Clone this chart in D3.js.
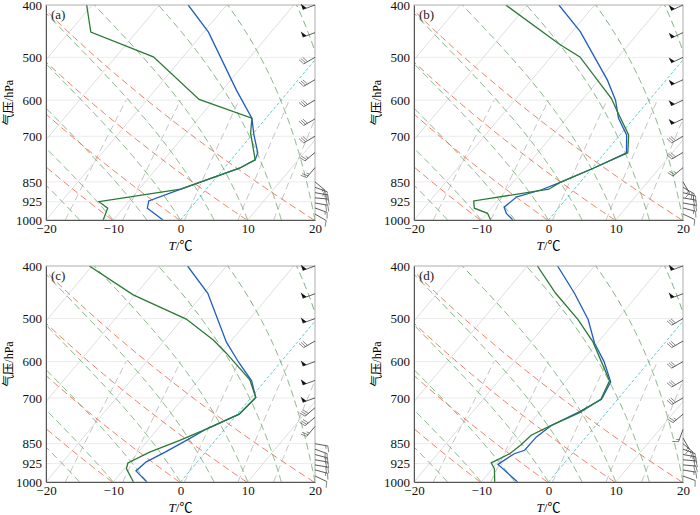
<!DOCTYPE html>
<html><head><meta charset="utf-8">
<script src="https://cdn.jsdelivr.net/npm/d3@7"></script>
<style>body{margin:0;background:#fff}</style>
</head><body>
<svg id="chart" width="700" height="515"></svg>
<script>
// pressure levels (hPa) and temperatures (degC)
const presA_g = [400,449,499,598,648,691,774,802,877,925,951,1000];
const tempA_g = [-40.8,-36.8,-24.4,-12.3,-2.1,-0.4,3.6,2.3,-3.8,-14.4,-12.3,-11.5];
const presA_b = [400,449,575,648,696,751,774,802,877,922,951,1000];
const tempA_b = [-25.7,-19.3,-7.9,-2.1,0.3,3.1,3.6,2.3,-3.8,-7.1,-6.4,-2.6];

const presB_g = [400,473,499,596,630,696,751,802,853,877,922,951,972,1000];
const tempB_g = [-33.2,-20.3,-15.7,-5.8,-3.3,1.3,3.4,0.2,-3.0,-3.8,-13.5,-12.5,-9.9,-8.6];
const presB_b = [400,448,551,600,648,696,751,802,853,880,906,947,972,1000];
const tempB_b = [-25.3,-18.8,-8.7,-5.0,-2.3,1.0,3.2,0.2,-3.0,-4.9,-7.6,-8.2,-7.1,-5.3];

const presC_g = [400,452,501,548,579,648,699,750,798,838,881,922,945,1000];
const tempC_g = [-40.4,-30.3,-19.4,-12.7,-9.2,-2.4,0.7,0.3,-2.7,-5.3,-8.3,-10.2,-9.7,-7.0];
const presC_b = [400,449,552,601,651,699,750,798,838,881,918,954,1000];
const tempC_b = [-25.8,-19.4,-10.6,-6.3,-2.0,0.7,0.3,-2.7,-4.3,-6.0,-7.6,-8.0,-5.0];

const presD_g = [400,449,502,552,651,704,745,790,820,855,887,922,945,1000];
const tempD_g = [-28.5,-22.4,-15.8,-10.8,-3.5,-2.5,-4.0,-6.8,-8.4,-8.7,-9.3,-10.9,-9.7,-8.0];
const presD_b = [400,449,502,555,600,654,704,742,787,826,874,887,928,1000];
const tempD_b = [-25.5,-19.6,-14.3,-10.4,-6.7,-3.2,-2.4,-4.1,-6.6,-7.4,-7.5,-8.6,-9.7,-4.6];

// wind: level (hPa), speed (m/s), direction from (deg)
const windLevA = [400,450,500,550,600,650,700,750,800,850,870,890,910,930,950,975];
const windSpdA = [20,20,12,12,12,12,12,10,10,6,8,8,8,8,6,4];
const windDirA = [250,250,240,240,240,240,240,230,220,130,110,100,95,100,110,120];
const windLevB = [400,450,500,550,600,650,700,750,800,850,870,890,910,930,950,975];
const windSpdB = [20,20,20,20,20,20,12,12,10,6,8,8,8,8,6,4];
const windDirB = [245,245,245,245,245,245,240,240,230,150,120,105,100,100,105,115];
const windLevC = [400,450,500,550,600,650,700,730,760,790,850,870,890,910,930,950,975];
const windSpdC = [20,20,20,12,20,20,20,12,12,10,6,8,8,8,8,6,4];
const windDirC = [250,250,250,240,250,250,250,230,230,220,100,110,105,100,100,105,115];
const windLevD = [400,450,500,550,600,650,700,750,800,830,850,870,890,910,930,950,975];
const windSpdD = [20,20,12,12,12,12,12,10,6,6,6,8,8,8,8,6,4];
const windDirD = [250,250,240,240,240,240,240,230,200,150,130,110,100,95,95,100,110];

const xTicks = [-20,-10,0,10,20];
const yTicks = [400,500,600,700,850,925,1000];
const gridP = [500,600,700,850,925];
const isotherms = d3.range(-100,41,10).filter(t => t !== 0);
const thetas = [213,223,233,243,253,263,273,283,293];
const moistStart = [-15,-10,-5,0,5,10,15,20,25,30,35];
const mixRatios = [1,2,4,7,10,16,24];

const panels = [
  {lab:"(a)", x0:46, x1:315, y0:5, y1:220, g:[presA_g,tempA_g], b:[presA_b,tempA_b], w:[windLevA,windSpdA,windDirA]},
  {lab:"(b)", x0:414, x1:683, y0:5, y1:220, g:[presB_g,tempB_g], b:[presB_b,tempB_b], w:[windLevB,windSpdB,windDirB]},
  {lab:"(c)", x0:46, x1:315, y0:266, y1:482, g:[presC_g,tempC_g], b:[presC_b,tempC_b], w:[windLevC,windSpdC,windDirC]},
  {lab:"(d)", x0:414, x1:683, y0:266, y1:482, g:[presD_g,tempD_g], b:[presD_b,tempD_b], w:[windLevD,windSpdD,windDirD]}
];

const K = 29.3; // skew
const skew = p => K * Math.log(1000 / p);
const svg = d3.select("#chart");
const font = "'Liberation Serif', 'Noto Sans CJK SC', serif";

// moist adiabat integration
function moist(t0) {
  const pts = [];
  let T = t0 + 273.15;
  for (let p = 1000; p >= 395; p -= 2) {
    pts.push([p, T - 273.15]);
    const tc = T - 273.15;
    const es = 6.112 * Math.exp(17.67 * tc / (tc + 243.5));
    const rs = 0.622 * es / (p - es);
    const Lv = 2.5e6, Rd = 287, cp = 1004;
    const dTdp = (1 / p) * (Rd * T + Lv * rs) / (cp + Lv * Lv * rs * 0.622 / (Rd * T * T));
    T -= dTdp * 2;
  }
  return pts;
}
function tdFromW(w, p) {
  const e = w * p / (622 + w);
  const l = Math.log(e / 6.112);
  return 243.5 * l / (17.67 - l);
}

panels.forEach((pn, i) => {
  const x = d3.scaleLinear().domain([-20, 20]).range([pn.x0, pn.x1]);
  const y = d3.scaleLog().domain([1000, 400]).range([pn.y1, pn.y0]);
  const g = svg.append("g");
  g.append("clipPath").attr("id", "c" + i).append("rect")
    .attr("x", pn.x0).attr("y", pn.y0).attr("width", pn.x1 - pn.x0).attr("height", pn.y1 - pn.y0);
  const body = g.append("g").attr("clip-path", `url(#c${i})`);
  const line = d3.line().x(d => x(d[1] + skew(d[0]))).y(d => y(d[0]));
  const pAll = d3.range(1000, 395, -5);

  body.selectAll(".grid").data(gridP).join("line")
    .attr("x1", pn.x0).attr("x2", pn.x1).attr("y1", d => y(d)).attr("y2", d => y(d))
    .attr("stroke", "#e6e6e6").attr("stroke-width", 0.8);

  body.selectAll(".iso").data(isotherms).join("path")
    .attr("d", t => line([[1000, t], [400, t]]))
    .attr("fill", "none").attr("stroke", "#d0d0d0").attr("stroke-width", 0.7);
  body.append("path").attr("d", line([[1000, 0], [400, 0]]))
    .attr("fill", "none").attr("stroke", "#4cc6c6").attr("stroke-width", 0.9).attr("stroke-dasharray", "3,2");

  body.selectAll(".mix").data(mixRatios).join("path")
    .attr("d", w => line(d3.range(1000, 599, -20).map(p => [p, tdFromW(w, p)])))
    .attr("fill", "none").attr("stroke", "#bdbdbd").attr("stroke-width", 0.9).attr("stroke-dasharray", "7,4");

  body.selectAll(".dry").data(thetas).join("path")
    .attr("d", th => line(pAll.map(p => [p, th * Math.pow(p / 1000, 0.286) - 273.15])))
    .attr("fill", "none").attr("stroke", "#f26a4b").attr("stroke-width", 0.9).attr("stroke-dasharray", "7,4");

  body.selectAll(".moist").data(moistStart).join("path")
    .attr("d", t => line(moist(t)))
    .attr("fill", "none").attr("stroke", "#6aa56a").attr("stroke-width", 0.9).attr("stroke-dasharray", "7,4");

  body.append("path").attr("d", line(pn.b[0].map((p, k) => [p, pn.b[1][k]])))
    .attr("fill", "none").attr("stroke", "#1f5cc4").attr("stroke-width", 1.3);
  body.append("path").attr("d", line(pn.g[0].map((p, k) => [p, pn.g[1][k]])))
    .attr("fill", "none").attr("stroke", "#2a7a34").attr("stroke-width", 1.3);

  // frame
  g.append("rect").attr("x", pn.x0).attr("y", pn.y0).attr("width", pn.x1 - pn.x0).attr("height", pn.y1 - pn.y0)
    .attr("fill", "none").attr("stroke", "#999").attr("stroke-width", 0.8);

  const xa = g.append("g").attr("transform", `translate(0,${pn.y1})`)
    .call(d3.axisBottom(x).tickValues(xTicks).tickSize(0).tickPadding(4).tickFormat(d => d < 0 ? "\u2212" + (-d) : d));
  const ya = g.append("g").attr("transform", `translate(${pn.x0},0)`)
    .call(d3.axisLeft(y).tickValues(yTicks).tickSize(0).tickPadding(4).tickFormat(d3.format("d")));
  [xa, ya].forEach(a => {
    a.attr("font-family", font).attr("font-size", 13);
    a.select(".domain").attr("stroke", "#555");
    a.selectAll("text").attr("fill", "#111");
  });

  g.append("text").attr("x", pn.x0 + 5).attr("y", pn.y0 + 14).text(pn.lab)
    .attr("font-family", font).attr("font-size", 13).attr("fill", "#222");
  const xl = g.append("text").attr("x", (pn.x0 + pn.x1) / 2).attr("y", pn.y1 + 30)
    .attr("text-anchor", "middle").attr("font-family", font).attr("font-size", 13);
  xl.append("tspan").attr("font-style", "italic").text("T");
  xl.append("tspan").text("/\u2103");
  g.append("text").attr("transform", `translate(${pn.x0 - 33},${(pn.y0 + pn.y1) / 2 - 10}) rotate(-90)`)
    .attr("text-anchor", "middle").attr("font-family", font).attr("font-size", 12).text("气压/hPa");

  // wind barbs
  const wb = g.append("g");
  pn.w[0].forEach((p, k) => {
    const spd = pn.w[1][k], dir = pn.w[2][k] * Math.PI / 180;
    const bx = pn.x1, by = y(p), L = 13;
    const dx = Math.sin(dir), dy = -Math.cos(dir);
    const nx = -dy, ny = dx; // perpendicular
    wb.append("line").attr("x1", bx).attr("y1", by).attr("x2", bx + dx * L).attr("y2", by + dy * L)
      .attr("stroke", "#333").attr("stroke-width", 0.8);
    let rem = spd, pos = 0;
    const at = s => [bx + dx * (L - s), by + dy * (L - s)];
    while (rem >= 20) {
      const a = at(pos), b = at(pos + 4);
      wb.append("path").attr("d", `M${a[0]},${a[1]}L${a[0] + nx * 6},${a[1] + ny * 6}L${b[0]},${b[1]}Z`).attr("fill", "#111");
      rem -= 20; pos += 5;
    }
    while (rem >= 4) {
      const a = at(pos);
      wb.append("line").attr("x1", a[0]).attr("y1", a[1]).attr("x2", a[0] + nx * 6 + dx * 2).attr("y2", a[1] + ny * 6 + dy * 2)
        .attr("stroke", "#666").attr("stroke-width", 0.8);
      rem -= 4; pos += 2.2;
    }
    if (rem >= 2) {
      const a = at(pos);
      wb.append("line").attr("x1", a[0]).attr("y1", a[1]).attr("x2", a[0] + nx * 3 + dx).attr("y2", a[1] + ny * 3 + dy)
        .attr("stroke", "#666").attr("stroke-width", 0.8);
    }
  });
});
</script>
</body></html>
